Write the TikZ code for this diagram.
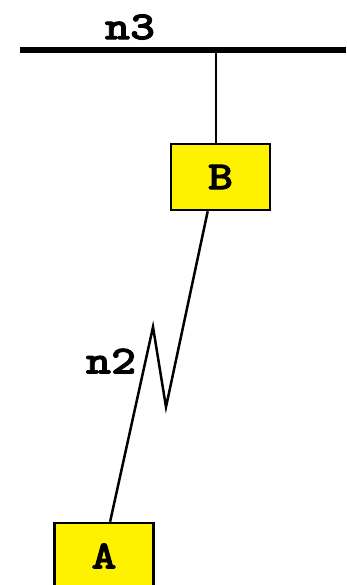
\documentclass[tikz,border=0pt]{standalone}
\usepackage{fontspec}
\newfontfamily\courfont{lmmonolt10-bold}[Extension=.otf, FakeStretch=1.2, FakeBold=2]
\usetikzlibrary{calc}
\begin{document}
\begin{tikzpicture}[x=1pt,y=-1pt,
  box/.style={draw=black, line width=2.5pt, fill=yellow, minimum width=99pt, minimum height=66pt, inner sep=0pt, font=\courfont\fontsize{40}{40}\selectfont},
  lbl/.style={inner sep=0pt, font=\courfont\fontsize{40}{40}\selectfont},
  wire/.style={line width=2.5pt, line join=miter},
  bus/.style={line width=6pt}]
\useasboundingbox (0,0) rectangle (346,585);
\coordinate (busL) at (20,50);
\coordinate (busR) at (346,50);
\draw[bus] (busL) -- (busR);
\node[lbl] (n3) at (130,27) {n3};
\node[box] (B) at (220.5,177) {B};
\node[box] (A) at (104,556) {A};
\coordinate (tap) at (216,50);
\draw[wire] (tap) -- (tap |- B.north);
\coordinate (z1) at (166,407);
\coordinate (z2) at (153,327);
\draw[wire] ($(B.south west)!0.374!(B.south east)$) -- (z1) -- (z2) -- ($(A.north west)!0.56!(A.north east)$);
\node[lbl] (n2) at (111,361) {n2};
\end{tikzpicture}
\end{document}
